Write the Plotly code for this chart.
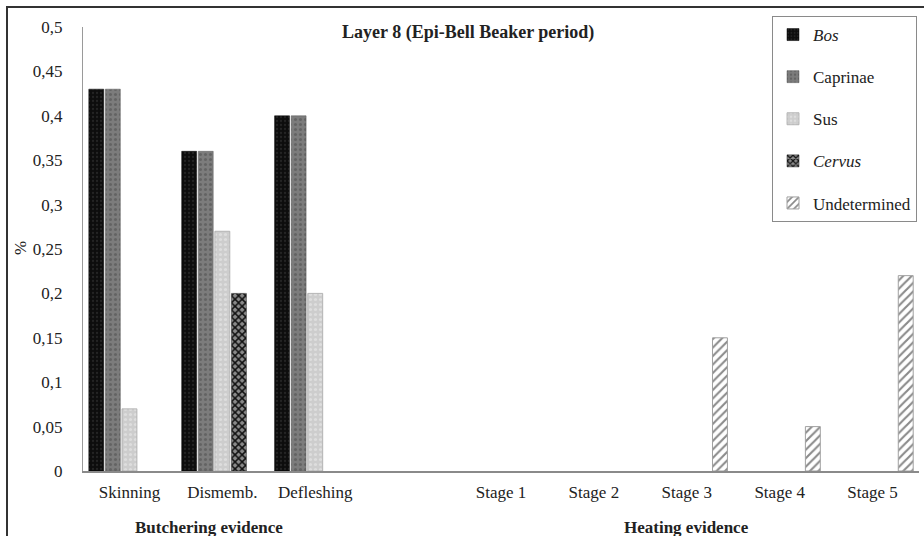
import plotly.graph_objects as go

categories = ["Skinning", "Dismemb.", "Defleshing", " ", "Stage 1", "Stage 2", "Stage 3", "Stage 4", "Stage 5"]
bos = [0.43, 0.36, 0.40, None, None, None, None, None, None]
caprinae = [0.43, 0.36, 0.40, None, None, None, None, None, None]
sus = [0.07, 0.27, 0.20, None, None, None, None, None, None]
cervus = [None, 0.20, None, None, None, None, None, None, None]
undetermined = [None, None, None, None, None, None, 0.15, 0.05, 0.22]
series_names = ["<i>Bos</i>", "Caprinae", "Sus", "<i>Cervus</i>", "Undetermined"]
y_ticks = [0, 0.05, 0.1, 0.15, 0.2, 0.25, 0.3, 0.35, 0.4, 0.45, 0.5]
title_text = "<b>Layer 8 (Epi-Bell Beaker period)</b>"
group_labels = ["<b>Butchering evidence</b>", "<b>Heating evidence</b>"]

FONT = "Liberation Serif, Times New Roman, serif"
FS = 17

styles = [
    dict(color="#0d0d0d", line=dict(color="#000000", width=0.5),
         pattern=dict(shape=".", fgcolor="#3a3a3a", size=4, solidity=0.25)),
    dict(color="#7c7c7c", line=dict(color="#5a5a5a", width=0.5),
         pattern=dict(shape=".", fgcolor="#4a4a4a", size=5, solidity=0.3)),
    dict(color="#cdcdcd", line=dict(color="#a8a8a8", width=0.8),
         pattern=dict(shape=".", fgcolor="#ededed", size=5, solidity=0.3)),
    dict(color="#2a2a2a", line=dict(color="#222222", width=0.5),
         pattern=dict(shape="x", fgcolor="#111111", bgcolor="#8a8a8a", size=5, solidity=0.5, fillmode="replace")),
    dict(color="#ffffff", line=dict(color="#a0a0a0", width=1),
         pattern=dict(shape="/", fgcolor="#8a8a8a", bgcolor="#ffffff", size=6, solidity=0.35, fillmode="replace")),
]

fig = go.Figure()
for name, vals, st, g in zip(series_names, [bos, caprinae, sus, cervus, undetermined], styles, range(5)):
    fig.add_trace(go.Bar(x=categories, y=vals, name=name, marker=st, legendgroup=str(g)))

L, R, T, B = 83, 5, 27, 65
W, H = 924, 536
pw, ph = W - L - R, H - T - B

def px_x(p):
    return (p - L) / pw

def px_y(p):
    return (H - B - p) / ph

fig.update_layout(
    width=W, height=H,
    margin=dict(l=L, r=R, t=T, b=B, pad=0),
    paper_bgcolor="white", plot_bgcolor="white",
    separators=", ",
    barmode="group", bargap=0.107, bargroupgap=0.1,
    font=dict(family=FONT, size=FS, color="#222222"),
    showlegend=True,
    legend=dict(x=px_x(917), y=px_y(16), xanchor="right", yanchor="top",
                bordercolor="#8a8a8a", borderwidth=1, bgcolor="white",
                font=dict(family=FONT, size=FS, color="#222222"),
                traceorder="grouped", tracegroupgap=17, itemwidth=30),
    xaxis=dict(type="category", categoryorder="array", categoryarray=categories,
               showline=True, linecolor="#8a8a8a", linewidth=2, showgrid=False,
               ticks="", ticklabelstandoff=5, tickfont=dict(family=FONT, size=FS, color="#222222"),
               range=[-0.5, len(categories) - 0.5], fixedrange=True),
    yaxis=dict(range=[0, 0.5], tickvals=y_ticks, showgrid=False, zeroline=False,
               showline=True, linecolor="#9a9a9a", linewidth=1, ticks="",
               ticklabelstandoff=16, tickfont=dict(family=FONT, size=FS, color="#222222")),
)

fig.add_annotation(text=title_text, xref="paper", yref="paper", x=px_x(468), y=px_y(32),
                   xanchor="center", yanchor="middle", showarrow=False,
                   font=dict(family=FONT, size=18, color="#222222"))
fig.add_annotation(text="%", xref="paper", yref="paper", x=px_x(20), y=px_y(248),
                   xanchor="center", yanchor="middle", showarrow=False, textangle=-90,
                   font=dict(family=FONT, size=FS, color="#222222"))
fig.add_annotation(text=group_labels[0], xref="x", yref="paper", x=0.86, y=px_y(527),
                   xanchor="center", yanchor="middle", showarrow=False,
                   font=dict(family=FONT, size=FS, color="#222222"))
fig.add_annotation(text=group_labels[1], xref="x", yref="paper", x=6, y=px_y(527),
                   xanchor="center", yanchor="middle", showarrow=False,
                   font=dict(family=FONT, size=FS, color="#222222"))

fig.add_shape(type="rect", xref="paper", yref="paper",
              x0=px_x(7), x1=px_x(940), y0=px_y(560), y1=px_y(7),
              line=dict(color="#333333", width=2), fillcolor="rgba(0,0,0,0)", layer="below")

fig.write_html("out.html", config={"displayModeBar": False},
               post_script="document.body.style.margin='0';document.body.style.overflow='hidden';")
